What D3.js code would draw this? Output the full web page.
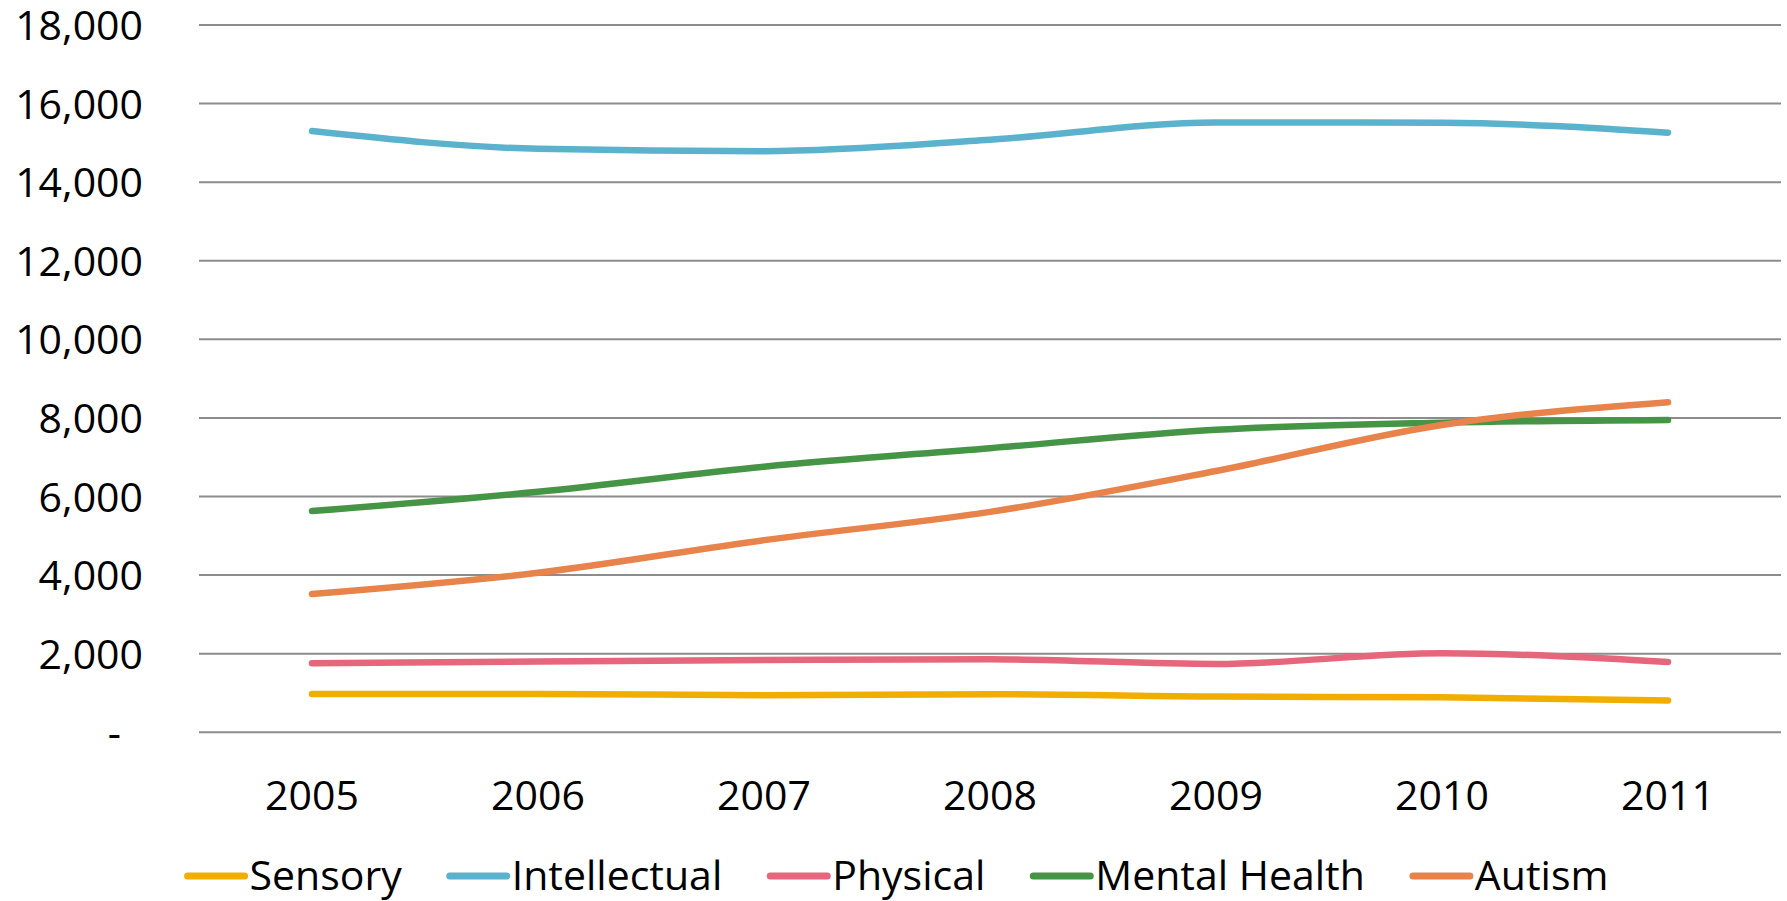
<!DOCTYPE html>
<html>
<head>
<meta charset="utf-8">
<script src="https://cdn.jsdelivr.net/npm/d3@7"></script>
<style>
  html, body { margin: 0; padding: 0; background: #fff; }
  svg { display: block; }
  text { font-family: "Open Sans", "Noto Sans", sans-serif; fill: #000; }
</style>
</head>
<body>
<svg id="chart" width="1787" height="901"></svg>
<script>
// ---- data ----
const years = ["2005", "2006", "2007", "2008", "2009", "2010", "2011"];
const seriesNames = ["Sensory", "Intellectual", "Physical", "Mental Health", "Autism"];
const sensory      = [975, 975, 945, 970, 910, 890, 810];
const intellectual = [15300, 14850, 14790, 15080, 15520, 15510, 15260];
const physical     = [1755, 1800, 1840, 1860, 1740, 2010, 1790];
const mentalHealth = [5630, 6120, 6760, 7230, 7700, 7880, 7950];
const autism       = [3520, 4060, 4890, 5610, 6650, 7820, 8400];
const yTicks = [0, 2000, 4000, 6000, 8000, 10000, 12000, 14000, 16000, 18000];
const seriesColors = ["#F2AE00", "#5BB2CC", "#E6667B", "#469446", "#E8834B"];

const seriesValues = [sensory, intellectual, physical, mentalHealth, autism];

// ---- layout ----
const svg = d3.select("#chart");
const plotLeft = 199, plotRight = 1781, plotTop = 25, plotBottom = 732.3;

const x = d3.scalePoint().domain(years).range([plotLeft, plotRight]).padding(0.5);
const y = d3.scaleLinear().domain([0, 18000]).range([plotBottom, plotTop]);

// gridlines
svg.append("g").selectAll("line").data(yTicks).join("line")
  .attr("x1", plotLeft).attr("x2", plotRight)
  .attr("y1", d => y(d)).attr("y2", d => y(d))
  .attr("stroke", "#8c8c8c").attr("stroke-width", 2);

// y axis labels
const fmt = d3.format(",");
svg.append("g").selectAll("text").data(yTicks).join("text")
  .attr("x", d => d === 0 ? 121 : 143)
  .attr("y", d => y(d) + 15)
  .attr("text-anchor", "end")
  .attr("font-size", 41)
  .text(d => d === 0 ? "-" : fmt(d));

// x axis labels
svg.append("g").selectAll("text").data(years).join("text")
  .attr("x", d => x(d))
  .attr("y", 810)
  .attr("text-anchor", "middle")
  .attr("font-size", 41)
  .text(d => d);

// lines
const line = d3.line()
  .x((d, i) => x(years[i]))
  .y(d => y(d))
  .curve(d3.curveMonotoneX);

svg.append("g").selectAll("path").data(seriesValues).join("path")
  .attr("d", d => line(d))
  .attr("fill", "none")
  .attr("stroke", (d, i) => seriesColors[i])
  .attr("stroke-width", 6.5)
  .attr("stroke-linecap", "round")
  .attr("stroke-linejoin", "round");

// legend
const legend = svg.append("g");
const swatchW = 57, swatchGap = 5, itemGap = 48, legendY = 876, legendCenter = 898;
const items = seriesNames.map((name, i) => {
  const g = legend.append("g");
  g.append("line").attr("x1", 0).attr("x2", swatchW)
    .attr("y1", legendY).attr("y2", legendY)
    .attr("stroke", seriesColors[i]).attr("stroke-width", 7)
    .attr("stroke-linecap", "round");
  const t = g.append("text").attr("x", swatchW + swatchGap).attr("y", legendY + 14)
    .attr("font-size", 41).text(name);
  const w = t.node().getComputedTextLength();
  return { g, width: swatchW + swatchGap + w };
});
const total = d3.sum(items, d => d.width) + itemGap * (items.length - 1);
let cx = legendCenter - total / 2;
items.forEach(it => {
  it.g.attr("transform", `translate(${cx},0)`);
  cx += it.width + itemGap;
});
</script>
</body>
</html>
